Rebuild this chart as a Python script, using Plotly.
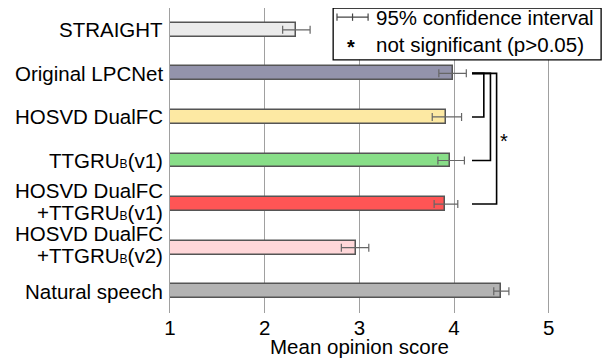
import plotly.graph_objects as go

# ---- data ----
SUB = "<span style='font-size:12px'>B</span>"
categories = [
    ["STRAIGHT"],
    ["Original LPCNet"],
    ["HOSVD DualFC"],
    ["TTGRU" + SUB + "(v1)"],
    ["HOSVD DualFC", "+TTGRU" + SUB + "(v1)"],
    ["HOSVD DualFC", "+TTGRU" + SUB + "(v2)"],
    ["Natural speech"],
]
mos_mean = [2.33, 3.99, 3.92, 3.96, 3.91, 2.96, 4.50]
ci_low = [2.19, 3.84, 3.77, 3.83, 3.79, 2.81, 4.42]
ci_high = [2.48, 4.13, 4.08, 4.11, 4.04, 3.10, 4.58]
bar_colors = ["#ebebeb", "#9393ab", "#fde9a3", "#88de88", "#ff5555", "#ffd7d9", "#b3b3b3"]
x_ticks = [1, 2, 3, 4, 5]

# non-significant comparisons: (reference index, other index, bracket x)
brackets = [(1, 2, 4.315), (1, 3, 4.385), (1, 4, 4.45)]
bracket_start = 4.19

FONT = "Liberation Sans, Arial, sans-serif"
FS = 20.5

ypos = list(range(len(categories)))
fig = go.Figure()
fig.add_trace(go.Bar(
    y=ypos,
    x=[m - 1 for m in mos_mean],
    base=1,
    orientation="h",
    width=0.32,
    marker=dict(color=bar_colors, line=dict(color="#555555", width=1.5)),
    error_x=dict(
        type="data", symmetric=False,
        array=[h - m for h, m in zip(ci_high, mos_mean)],
        arrayminus=[m - l for m, l in zip(mos_mean, ci_low)],
        color="#666666", thickness=1.2, width=4,
    ),
    showlegend=False,
    hoverinfo="skip",
))

shapes = []
for a, b, bx in brackets:
    shapes.append(dict(type="path", xref="x", yref="y",
                       path=f"M {bracket_start},{a} L {bx},{a} L {bx},{b} L {bracket_start},{b}",
                       line=dict(color="black", width=1.6)))

annotations = [dict(x=4.53, y=2.55, xref="x", yref="y", text="*", showarrow=False,
                    font=dict(family=FONT, size=20, color="black"))]

# category labels (line spacing controlled)
LINE = 22
for i, lines in enumerate(categories):
    n = len(lines)
    for k, txt in enumerate(lines):
        off = (k - (n - 1) / 2) * LINE
        shift = -off + (3 if n > 1 else 0)
        annotations.append(dict(x=-0.012, y=i, xref="paper", yref="y", text=txt,
                                showarrow=False, xanchor="right", yanchor="middle",
                                yshift=shift,
                                font=dict(family=FONT, size=FS, color="black")))

# x-axis title
annotations.append(dict(x=0.446, y=-0.11, xref="paper", yref="paper",
                        text="Mean opinion score", showarrow=False,
                        xanchor="center", yanchor="middle",
                        font=dict(family=FONT, size=FS, color="black")))

# legend box (paper coords)
shapes.append(dict(type="rect", xref="paper", yref="paper", x0=0.383, x1=1.012,
                   y0=0.830, y1=1.0, line=dict(color="black", width=1.3),
                   fillcolor="white", layer="above"))
ly = 0.97
shapes.append(dict(type="line", xref="paper", yref="paper", x0=0.392, x1=0.465, y0=ly, y1=ly,
                   line=dict(color="#444", width=1.2), layer="above"))
for xx in (0.392, 0.4285, 0.465):
    shapes.append(dict(type="line", xref="paper", yref="paper", x0=xx, x1=xx,
                       y0=ly - 0.012, y1=ly + 0.012, line=dict(color="#444", width=1.2),
                       layer="above"))
annotations += [
    dict(x=0.48, y=ly, xref="paper", yref="paper", text="95% confidence interval",
         showarrow=False, xanchor="left", yanchor="middle",
         font=dict(family=FONT, size=FS, color="black")),
    dict(x=0.425, y=0.872, xref="paper", yref="paper", text="<b>*</b>",
         showarrow=False, xanchor="center", yanchor="middle",
         font=dict(family=FONT, size=20, color="black")),
    dict(x=0.48, y=0.880, xref="paper", yref="paper", text="not significant (p>0.05)",
         showarrow=False, xanchor="left", yanchor="middle",
         font=dict(family=FONT, size=FS, color="black")),
]

# page body has an 8px default margin, so the figure is sized to fit the window
fig.update_layout(
    width=602, height=350,
    margin=dict(l=162, r=14, t=0, b=45),
    plot_bgcolor="white", paper_bgcolor="white",
    font=dict(family=FONT, size=FS, color="black"),
    shapes=shapes, annotations=annotations,
    bargap=0,
)
fig.update_xaxes(
    range=[1, 5.5], tickvals=x_ticks, ticktext=[str(t) for t in x_ticks],
    showgrid=True, gridcolor="#a0a0a0", gridwidth=1, zeroline=False,
    showline=False, ticks="", ticklen=0, automargin=False,
    tickfont=dict(size=FS), fixedrange=True,
)
fig.update_yaxes(
    range=[6.5, -0.5], tickvals=ypos, showticklabels=False,
    showgrid=False, zeroline=False, showline=True, linecolor="#a0a0a0", linewidth=1,
    ticks="", automargin=False, fixedrange=True,
)

fig.write_html("out.html")
